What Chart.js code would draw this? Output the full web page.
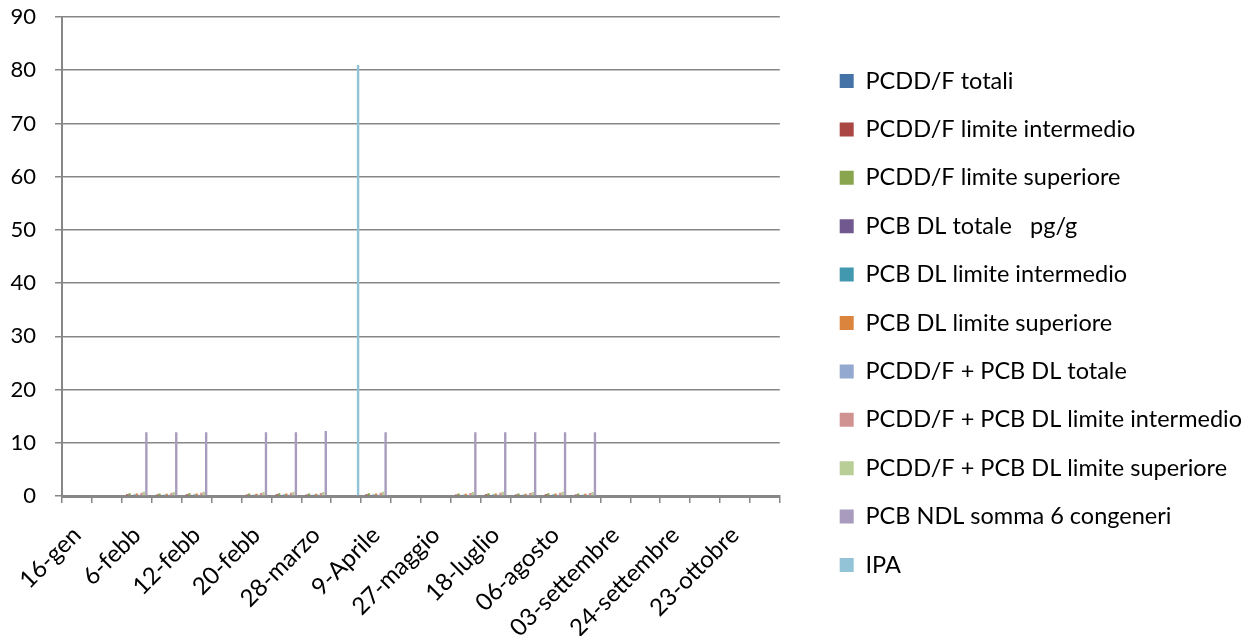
<!DOCTYPE html>
<html>
<head>
<meta charset="utf-8">
<script src="https://cdn.jsdelivr.net/npm/chart.js@4.4.1/dist/chart.umd.min.js"></script>
<style>
  html, body { margin: 0; padding: 0; background: #fff; }
  canvas { display: block; }
</style>
</head>
<body>
<canvas id="chart" width="1253" height="636"></canvas>
<script>
// Sampling dates: only every other one is printed on the axis
const tickLabels = ['16-gen', '6-febb', '12-febb', '20-febb', '28-marzo', '9-Aprile',
  '27-maggio', '18-luglio', '06-agosto', '03-settembre', '24-settembre', '23-ottobre'];
const categories = tickLabels.flatMap((l) => [l, '']);

// One value per sampling date (24 dates)
const pcddTot    = [0, 0, 0.15, 0.15, 0.15, 0, 0.15, 0.15, 0.15, 0, 0.15, 0, 0, 0.15, 0.15, 0.15, 0.15, 0.15, 0, 0, 0, 0, 0, 0];
const pcddInt    = [0, 0, 0.35, 0.3, 0.35, 0, 0.3, 0.35, 0.3, 0, 0.35, 0, 0, 0.3, 0.35, 0.3, 0.35, 0.3, 0, 0, 0, 0, 0, 0];
const pcddSup    = [0, 0, 0.5, 0.45, 0.5, 0, 0.45, 0.5, 0.45, 0, 0.5, 0, 0, 0.45, 0.5, 0.45, 0.5, 0.45, 0, 0, 0, 0, 0, 0];
const pcbTot     = [0, 0, 0.1, 0.1, 0.1, 0, 0.1, 0.1, 0.1, 0, 0.1, 0, 0, 0.1, 0.1, 0.1, 0.1, 0.1, 0, 0, 0, 0, 0, 0];
const pcbInt     = [0, 0, 0.3, 0.25, 0.3, 0, 0.25, 0.3, 0.25, 0, 0.3, 0, 0, 0.25, 0.3, 0.25, 0.3, 0.25, 0, 0, 0, 0, 0, 0];
const pcbSup     = [0, 0, 0.45, 0.4, 0.45, 0, 0.4, 0.45, 0.4, 0, 0.45, 0, 0, 0.4, 0.45, 0.4, 0.45, 0.4, 0, 0, 0, 0, 0, 0];
const sumTot     = [0, 0, 0.25, 0.25, 0.25, 0, 0.25, 0.25, 0.25, 0, 0.25, 0, 0, 0.25, 0.25, 0.25, 0.25, 0.25, 0, 0, 0, 0, 0, 0];
const sumInt     = [0, 0, 0.6, 0.55, 0.6, 0, 0.55, 0.6, 0.55, 0, 0.6, 0, 0, 0.55, 0.6, 0.55, 0.6, 0.55, 0, 0, 0, 0, 0, 0];
const sumSup     = [0, 0, 0.8, 0.75, 0.8, 0, 0.75, 0.8, 0.75, 0, 0.8, 0, 0, 0.75, 0.8, 0.75, 0.8, 0.75, 0, 0, 0, 0, 0, 0];
const pcbNdl     = [0, 0, 12, 12, 12, 0, 12, 12, 12.2, 0, 12, 0, 0, 12, 12, 12, 12, 12, 0, 0, 0, 0, 0, 0];
const ipa        = [0, 0, 0, 0, 0, 0, 0, 0, 0, 81, 0, 0, 0, 0, 0, 0, 0, 0, 0, 0, 0, 0, 0, 0];

const seriesNames = [
  'PCDD/F totali', 'PCDD/F limite intermedio', 'PCDD/F limite superiore',
  'PCB DL totale   pg/g', 'PCB DL limite intermedio', 'PCB DL limite superiore',
  'PCDD/F + PCB DL totale', 'PCDD/F + PCB DL limite intermedio', 'PCDD/F + PCB DL limite superiore',
  'PCB NDL somma 6 congeneri', 'IPA'
];
const seriesValues = [pcddTot, pcddInt, pcddSup, pcbTot, pcbInt, pcbSup, sumTot, sumInt, sumSup, pcbNdl, ipa];
const seriesColors = ['#4572A7', '#AA4643', '#89A54E', '#71588F', '#4198AF', '#DB843D',
  '#93A9CF', '#D19392', '#B9CD96', '#A99BBD', '#92C3D6'];

const AXIS_GREY = '#878787';
const FAMILY = 'Lato, "Open Sans", sans-serif';
const LABEL_FONT = { family: FAMILY, size: 24 };
const LEGEND_FONT = { family: FAMILY, size: 23.5 };
const NUM_FONT = { family: FAMILY, size: 22 };

new Chart(document.getElementById('chart'), {
  type: 'bar',
  data: {
    labels: categories,
    datasets: seriesNames.map((name, i) => ({
      label: name,
      data: seriesValues[i],
      backgroundColor: seriesColors[i],
      borderWidth: 0,
      barPercentage: 1,
      categoryPercentage: 0.88
    }))
  },
  options: {
    responsive: false,
    animation: false,
    layout: { padding: { top: 10, right: 1, bottom: 0, left: 0 } },
    plugins: {
      tooltip: { enabled: false },
      legend: {
        position: 'right',
        maxWidth: 460,
        labels: {
          boxWidth: 14,
          boxHeight: 14,
          padding: 24.9,
          color: '#000',
          font: LEGEND_FONT
        }
      }
    },
    scales: {
      x: {
        grid: { drawOnChartArea: false, color: AXIS_GREY, lineWidth: 1.5, tickLength: 7 },
        border: { color: AXIS_GREY, width: 3 },
        ticks: { autoSkip: false, minRotation: 45, maxRotation: 45, color: '#000', font: LABEL_FONT, padding: 18 },
        afterFit: (scale) => { scale.height = 140; }
      },
      y: {
        min: 0,
        max: 90,
        ticks: { stepSize: 10, color: '#000', font: NUM_FONT, padding: 19 },
        grid: { color: AXIS_GREY, lineWidth: 1.5, tickLength: 7 },
        border: { color: AXIS_GREY, width: 2 },
        afterFit: (scale) => {
          // room above the plot for the top tick label
          scale.width = 62;
          scale.paddingTop = 17;
          scale.paddingBottom = 0;
        }
      },
      // empty axis that keeps a gap between the plot and the legend
      gap: {
        position: 'right',
        grid: { display: false },
        border: { display: false },
        ticks: { display: false },
        afterFit: (scale) => { scale.width = 35; }
      }
    }
  }
});
</script>
</body>
</html>
